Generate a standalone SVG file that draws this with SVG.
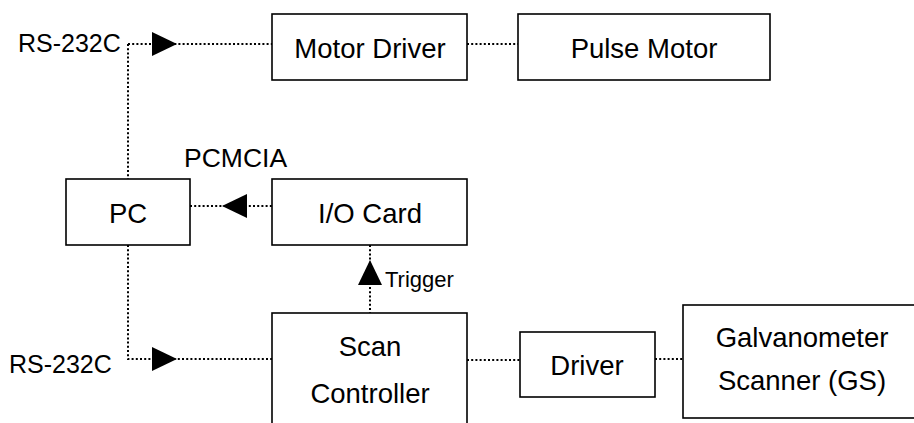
<svg xmlns="http://www.w3.org/2000/svg" width="914" height="423" viewBox="0 0 914 423">
<style>
.box{fill:#fff;stroke:#000;stroke-width:1.6}
.t{font-family:"Liberation Sans",Arial,sans-serif;font-size:27.5px;fill:#000}
.c{text-anchor:middle}
.dot{fill:none;stroke:#000;stroke-width:2;stroke-dasharray:2 2.2}
.ah{fill:#000;stroke:none}
</style>
<rect width="914" height="423" fill="#fff"/>
<g id="connectors">
<path class="dot" d="M128 44 H272"/>
<path class="dot" d="M467 44 H518"/>
<path class="dot" d="M128 44 V179"/>
<path class="dot" d="M128 245 V359 H272"/>
<path class="dot" d="M190 206 H272"/>
<path class="dot" d="M370 245 V313"/>
<path class="dot" d="M467 360 H520"/>
<path class="dot" d="M655 359 H683"/>
<polygon class="ah" points="152,32 177,44 152,56"/>
<polygon class="ah" points="247,194 222,206 247,218"/>
<polygon class="ah" points="152,347 177,359 152,371"/>
<polygon class="ah" points="358,285 370,260 382,285"/>
</g>
<g id="rs232c-top"><text class="t" x="18" y="52" style="font-size:25px">RS-232C</text></g>
<g id="rs232c-bottom"><text class="t" x="9" y="373" style="font-size:25px">RS-232C</text></g>
<g id="pcmcia"><text class="t" x="184" y="167" style="font-size:26.5px">PCMCIA</text></g>
<g id="trigger"><text class="t" x="385" y="287" style="font-size:22px">Trigger</text></g>
<g id="motor-driver"><rect class="box" x="272" y="14" width="195" height="66"/><text class="t c" x="370" y="58">Motor Driver</text></g>
<g id="pulse-motor"><rect class="box" x="518" y="14" width="252" height="66"/><text class="t c" x="644" y="58">Pulse Motor</text></g>
<g id="pc"><rect class="box" x="66" y="179" width="124" height="66"/><text class="t c" x="128" y="223">PC</text></g>
<g id="io-card"><rect class="box" x="272" y="179" width="195" height="66"/><text class="t c" x="370" y="223">I/O Card</text></g>
<g id="scan-controller"><rect class="box" x="272" y="313" width="195" height="130"/><text class="t c" x="370" y="356">Scan</text><text class="t c" x="370" y="403">Controller</text></g>
<g id="driver"><rect class="box" x="520" y="332" width="135" height="65"/><text class="t c" x="587" y="375">Driver</text></g>
<g id="galvanometer"><rect class="box" x="683" y="305" width="240" height="113"/><text class="t c" x="802" y="347">Galvanometer</text><text class="t c" x="802" y="390">Scanner (GS)</text></g>
</svg>
